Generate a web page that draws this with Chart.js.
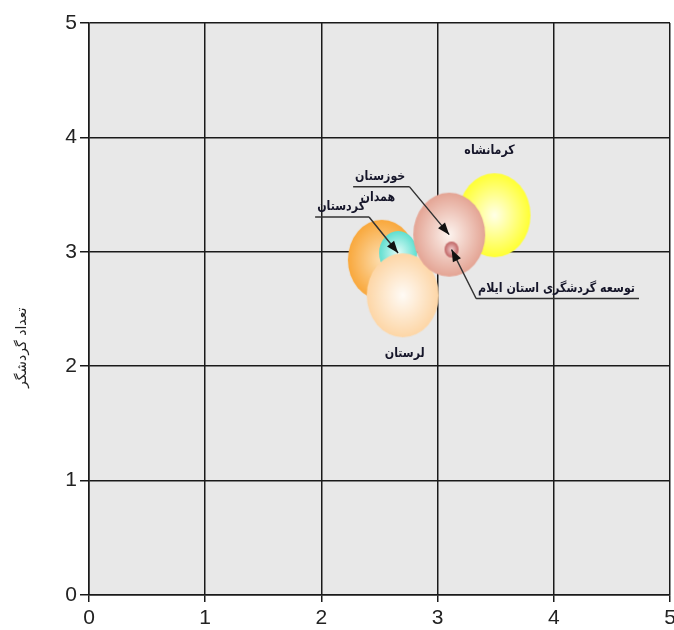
<!DOCTYPE html>
<html>
<head>
<meta charset="utf-8">
<script src="https://cdn.jsdelivr.net/npm/chart.js@4.4.0/dist/chart.umd.min.js"></script>
<style>
  html, body { margin: 0; padding: 0; background: #fff; }
  #wrap { width: 674px; height: 630px; }
</style>
</head>
<body>
<div id="wrap"><canvas id="tourismChart" width="674" height="630"></canvas></div>
<script>
// data, drawn in this order (later points sit on top)
const provinces = ['همدان', 'کردستان', 'لرستان', 'کرمانشاه', 'خوزستان', 'توسعه گردشگری استان ایلام'];
const xValues = [2.52, 2.66, 2.70, 3.49, 3.10, 3.12];
const yValues = [2.93, 2.99, 2.62, 3.32, 3.15, 3.02];
const bubbleSizes = [40, 22, 42, 42, 42, 8];
const xTicks = [0, 1, 2, 3, 4, 5];
const yTicks = [0, 1, 2, 3, 4, 5];
const yAxisTitle = 'تعداد گردشگر';

// styles
const edgeColors = ['#f9a83c', '#5fdfd0', '#fdd6a6', '#ffff33', '#e4a494', '#bf6262'];
const centerColors = ['#fde0b4', '#e2fcf8', '#fffbf6', '#ffffe8', '#fdf4ef', '#f3d0d0'];
const labelOffsets = [
    { dx: -4, dy: -62, callout: false },
    { dx: -57, dy: -46, callout: true },
    { dx: 2, dy: 58, callout: false },
    { dx: -5, dy: -65, callout: false },
    { dx: -69, dy: -58, callout: true },
    { dx: 105, dy: 39, callout: true }
];
const tickFont = "'Liberation Sans', Arial, sans-serif";
const labelFont = "bold 13px 'DejaVu Sans', sans-serif";
const labelSquash = 0.85; // DejaVu arabic runs wide, narrow it a bit
const lineColor = '#1a1a1a';

// shaded ellipse sprite for a bubble
function makeBubbleSprite(r, inner, outer) {
    const ry = r;
    const rx = Math.round(r * 0.85);
    const c = document.createElement('canvas');
    c.width = rx * 2 + 2;
    c.height = ry * 2 + 2;
    const g = c.getContext('2d');
    g.translate(c.width / 2, c.height / 2);
    g.scale(rx / ry, 1);
    const grad = g.createRadialGradient(0, 0, 0, 0, 0, ry);
    grad.addColorStop(0, inner);
    grad.addColorStop(1, outer);
    g.fillStyle = grad;
    g.beginPath();
    g.arc(0, 0, ry, 0, Math.PI * 2);
    g.fill();
    return c;
}

const sprites = bubbleSizes.map((r, i) => makeBubbleSprite(r, centerColors[i], edgeColors[i]));

const plotBackground = {
    id: 'plotBackground',
    beforeDraw(chart) {
        const { ctx, chartArea } = chart;
        ctx.save();
        ctx.fillStyle = '#e8e8e8';
        ctx.fillRect(chartArea.left, chartArea.top, chartArea.right - chartArea.left, chartArea.bottom - chartArea.top);
        ctx.restore();
    },
    afterDraw(chart) {
        // rotated y axis title, sits a little below the middle like the original
        const ctx = chart.ctx;
        ctx.save();
        ctx.translate(22, chart.chartArea.top + (chart.chartArea.bottom - chart.chartArea.top) * 0.568);
        ctx.rotate(-Math.PI / 2);
        ctx.font = "14px 'DejaVu Sans', sans-serif";
        ctx.fillStyle = '#222';
        ctx.textAlign = 'center';
        ctx.textBaseline = 'middle';
        ctx.fillText(yAxisTitle, 0, 0);
        ctx.restore();
    }
};

// point labels, some with an underline and an arrow back to the bubble
const bubbleLabels = {
    id: 'bubbleLabels',
    afterDatasetsDraw(chart) {
        const ctx = chart.ctx;
        const meta = chart.getDatasetMeta(0);
        ctx.save();
        ctx.font = labelFont;
        ctx.textAlign = 'center';
        ctx.textBaseline = 'middle';
        meta.data.forEach((pt, i) => {
            const o = labelOffsets[i];
            const tx = pt.x + o.dx;
            const ty = pt.y + o.dy;
            ctx.save();
            ctx.translate(tx, ty);
            ctx.scale(labelSquash, 1);
            ctx.fillStyle = '#16162a';
            ctx.fillText(provinces[i], 0, 0);
            ctx.restore();
            if (!o.callout) return;

            const w = ctx.measureText(provinces[i]).width * labelSquash;
            const uy = ty + 10;
            const x0 = tx - w / 2 - 2;
            const x1 = tx + w / 2 + 4;
            const sx = o.dx < 0 ? x1 : x0;
            ctx.strokeStyle = '#333';
            ctx.lineWidth = 1.5;
            ctx.beginPath();
            ctx.moveTo(x0, uy);
            ctx.lineTo(x1, uy);
            ctx.moveTo(sx, uy);
            ctx.lineTo(pt.x, pt.y);
            ctx.stroke();

            // arrow head at the bubble centre
            const ang = Math.atan2(pt.y - uy, pt.x - sx);
            const len = 12, half = 4.5;
            ctx.fillStyle = '#111';
            ctx.beginPath();
            ctx.moveTo(pt.x, pt.y);
            ctx.lineTo(pt.x - len * Math.cos(ang) + half * Math.sin(ang), pt.y - len * Math.sin(ang) - half * Math.cos(ang));
            ctx.lineTo(pt.x - len * Math.cos(ang) - half * Math.sin(ang), pt.y - len * Math.sin(ang) + half * Math.cos(ang));
            ctx.closePath();
            ctx.fill();
        });
        ctx.restore();
    }
};

const ctx = document.getElementById('tourismChart').getContext('2d');
const tourismChart = new Chart(ctx, {
    type: 'bubble',
    data: {
        datasets: [{
            label: yAxisTitle,
            data: xValues.map((x, i) => ({ x: x, y: yValues[i], r: bubbleSizes[i] })),
            pointStyle: sprites,
            backgroundColor: edgeColors,
            borderWidth: 0
        }]
    },
    options: {
        responsive: false,
        animation: false,
        events: [],
        layout: { autoPadding: false, padding: { top: 23, right: 4, left: 0, bottom: 0 } },
        plugins: {
            legend: { display: false },
            tooltip: { enabled: false }
        },
        scales: {
            x: {
                type: 'linear',
                min: 0,
                max: 5,
                afterBuildTicks: s => { s.ticks = xTicks.map(v => ({ value: v })); },
                afterFit: s => { s.height = 35; s.paddingLeft = 0; s.paddingRight = 0; },
                ticks: { color: '#222', padding: 6, maxRotation: 0, font: { family: tickFont, size: 21, lineHeight: 1 } },
                grid: { color: lineColor, lineWidth: 1.5, tickLength: 7 },
                border: { color: lineColor, width: 1.5 }
            },
            y: {
                type: 'linear',
                min: 0,
                max: 5,
                afterBuildTicks: s => { s.ticks = yTicks.map(v => ({ value: v })); },
                afterFit: s => { s.width = 89; s.paddingTop = 0; s.paddingBottom = 0; },
                ticks: { color: '#222', padding: 3, font: { family: tickFont, size: 21, lineHeight: 1 } },
                grid: { color: lineColor, lineWidth: 1.5, tickLength: 9 },
                border: { color: lineColor, width: 1.5 }
            }
        }
    },
    plugins: [plotBackground, bubbleLabels]
});
</script>
</body>
</html>
